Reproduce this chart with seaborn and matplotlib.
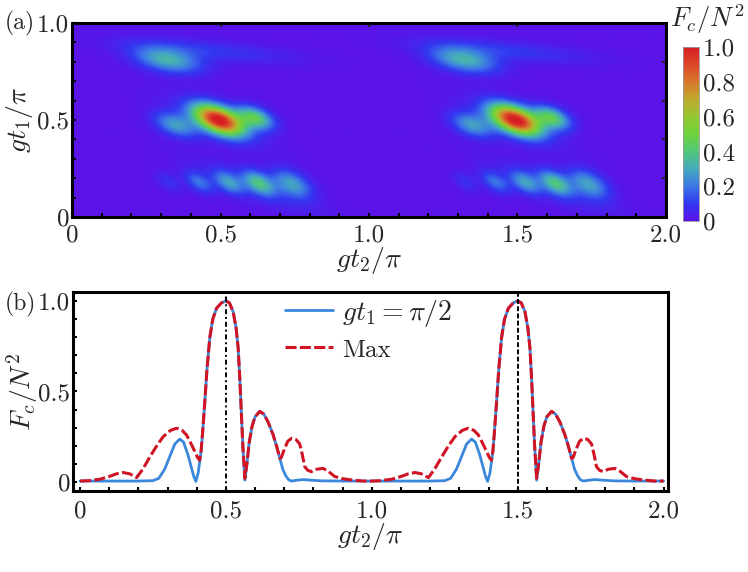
import numpy as np
import pandas as pd
import matplotlib
matplotlib.use("Agg")
import matplotlib.pyplot as plt
from matplotlib.colors import LinearSegmentedColormap
from matplotlib.ticker import MultipleLocator, NullFormatter
import seaborn as sns

# =========================
# DATA
# =========================

# panel (a): bright spots of F_c/N^2 in one period of gt2/pi (repeats at +1)
blob_x = [0.494, 0.617, 0.347, 0.32, 0.45, 0.325, 0.427, 0.527, 0.628, 0.74, 0.62, 0.48]
blob_y = [0.50, 0.512, 0.474, 0.81, 0.86, 0.18, 0.178, 0.176, 0.174, 0.17, 0.15, 0.49]
blob_amp = [1.0, 0.42, 0.27, 0.32, 0.10, 0.08, 0.19, 0.25, 0.34, 0.28, 0.06, 0.05]
blob_major = [0.095, 0.068, 0.078, 0.12, 0.30, 0.05, 0.058, 0.06, 0.064, 0.078, 0.26, 0.22]
blob_minor = [0.045, 0.035, 0.038, 0.042, 0.035, 0.028, 0.03, 0.032, 0.034, 0.042, 0.05, 0.06]
blob_angle = [-22, -22, -20, -10, -5, -32, -32, -32, -32, -28, -22, -24]
periods = [0.0, 1.0]

# panel (b): one period of each curve (the picture repeats it at +1)
blue_x = [0.0, 0.1, 0.2, 0.25, 0.27, 0.29, 0.31, 0.325, 0.342, 0.355, 0.37, 0.38,
          0.39, 0.397, 0.405, 0.415, 0.42, 0.428, 0.435, 0.445, 0.455, 0.468,
          0.485, 0.5, 0.512, 0.525, 0.535, 0.542, 0.548, 0.553, 0.558, 0.565,
          0.572, 0.58, 0.59, 0.6, 0.616, 0.63, 0.645, 0.662, 0.675, 0.685,
          0.695, 0.705, 0.715, 0.725, 0.745, 0.765, 0.79, 0.83, 0.9, 1.0]
blue_y = [0.005, 0.005, 0.005, 0.007, 0.02, 0.07, 0.15, 0.21, 0.237, 0.22, 0.15, 0.09,
          0.03, 0.003, 0.05, 0.17, 0.27, 0.45, 0.62, 0.8, 0.9, 0.96,
          0.99, 1.0, 0.99, 0.94, 0.85, 0.74, 0.56, 0.38, 0.2, 0.01,
          0.1, 0.22, 0.31, 0.36, 0.39, 0.375, 0.33, 0.26, 0.19, 0.13,
          0.07, 0.035, 0.012, 0.005, 0.01, 0.013, 0.01, 0.006, 0.005, 0.005]

max_x = [0.0, 0.03, 0.068, 0.1, 0.125, 0.148, 0.17, 0.194, 0.215, 0.24, 0.265,
         0.285, 0.31, 0.331, 0.35, 0.365, 0.377, 0.39, 0.403, 0.41, 0.415, 0.42,
         0.428, 0.435, 0.445, 0.455, 0.468, 0.485, 0.5, 0.512, 0.525, 0.535,
         0.542, 0.548, 0.553, 0.558, 0.565, 0.572, 0.58, 0.59, 0.6, 0.616,
         0.63, 0.645, 0.662, 0.675, 0.685, 0.69, 0.7, 0.712, 0.725, 0.74,
         0.753, 0.762, 0.77, 0.78, 0.793, 0.81, 0.833, 0.85, 0.873, 0.9,
         0.936, 0.97, 1.0]
max_y = [0.005, 0.007, 0.015, 0.03, 0.045, 0.052, 0.045, 0.024, 0.07, 0.14, 0.205,
         0.25, 0.285, 0.297, 0.285, 0.26, 0.223, 0.18, 0.135, 0.12, 0.17, 0.27,
         0.45, 0.62, 0.8, 0.9, 0.96, 0.99, 1.0, 0.99, 0.94, 0.85,
         0.74, 0.56, 0.38, 0.2, 0.02, 0.1, 0.22, 0.31, 0.36, 0.39,
         0.375, 0.33, 0.26, 0.19, 0.13, 0.135, 0.18, 0.225, 0.241, 0.235,
         0.21, 0.15, 0.085, 0.065, 0.057, 0.07, 0.075, 0.06, 0.03, 0.018,
         0.01, 0.005, 0.005]

ticks_main = [0, 0.5, 1.0, 1.5, 2.0]
tick_labels_main = ["0", "0.5", "1.0", "1.5", "2.0"]
ticks_y = [0, 0.5, 1.0]
tick_labels_y = ["0", "0.5", "1.0"]
cbar_ticks = [0, 0.2, 0.4, 0.6, 0.8, 1.0]
cbar_labels = ["0", "0.2", "0.4", "0.6", "0.8", "1.0"]

# =========================
# STYLE
# =========================

sns.set_theme(style="ticks")
plt.rcParams["font.family"] = ["cmr10", "DejaVu Serif"]
plt.rcParams["mathtext.fontset"] = "cm"
plt.rcParams["axes.unicode_minus"] = False
plt.rcParams["axes.linewidth"] = 2.2
plt.rcParams["axes.edgecolor"] = "black"

FS = 18      # tick labels
FL = 20      # axis labels (math)

rainbow = LinearSegmentedColormap.from_list("mma_rainbow", [
    (90 / 255, 20 / 255, 232 / 255),
    (50 / 255, 55 / 255, 240 / 255),
    (60 / 255, 120 / 255, 230 / 255),
    (70 / 255, 170 / 255, 190 / 255),
    (80 / 255, 200 / 255, 120 / 255),
    (110 / 255, 210 / 255, 60 / 255),
    (150 / 255, 200 / 255, 50 / 255),
    (190 / 255, 170 / 255, 45 / 255),
    (215 / 255, 120 / 255, 45 / 255),
    (220 / 255, 70 / 255, 40 / 255),
    (215 / 255, 30 / 255, 35 / 255),
])

fig = plt.figure(figsize=(7.48, 5.72), dpi=100)

# =========================
# PANEL (a): HEATMAP
# =========================

gx = np.linspace(0, 2, 700)
gy = np.linspace(0, 1, 350)
X, Y = np.meshgrid(gx, gy)
aspect = 297 / 194  # display scale x vs y
field = np.zeros_like(X)
for shift in periods:
    for x0, y0, a, s1, s2, ang in zip(blob_x, blob_y, blob_amp, blob_major, blob_minor, blob_angle):
        u = (X - x0 - shift) * aspect
        v = Y - y0
        t = np.deg2rad(ang)
        p = u * np.cos(t) + v * np.sin(t)
        q = -u * np.sin(t) + v * np.cos(t)
        field += a * np.exp(-0.5 * (p / s1) ** 2 - 0.5 * (q / s2) ** 2)
field = np.clip(field, 0, 1)

ax_a = fig.add_axes([0.0963, 0.6206, 0.794, 0.339])
im = ax_a.imshow(field, origin="lower", extent=[0, 2, 0, 1], aspect="auto",
                 cmap=rainbow, vmin=0, vmax=1, interpolation="bilinear")
ax_a.set_xlim(0, 2)
ax_a.set_ylim(0, 1)
ax_a.set_xticks(ticks_main)
ax_a.set_xticklabels(tick_labels_main, fontsize=FS)
ax_a.set_yticks(ticks_y)
ax_a.set_yticklabels(tick_labels_y, fontsize=FS)
ax_a.xaxis.set_minor_locator(MultipleLocator(0.1))
ax_a.yaxis.set_minor_locator(MultipleLocator(0.1))
ax_a.tick_params(which="both", direction="in", length=3, width=1.5, color="black")
ax_a.tick_params(axis="x", pad=5)
ax_a.tick_params(axis="y", pad=2)
top_a = ax_a.secondary_xaxis("top")
top_a.set_xticks([0.5, 1.0, 1.5])
top_a.xaxis.set_major_formatter(NullFormatter())
top_a.tick_params(direction="in", length=3, width=1.5)
top_a.spines["top"].set_visible(False)
right_a = ax_a.secondary_yaxis("right")
right_a.set_yticks([0.2, 0.4, 0.6, 0.8])
right_a.yaxis.set_major_formatter(NullFormatter())
right_a.tick_params(direction="in", length=3, width=1.5)
right_a.spines["right"].set_visible(False)
ax_a.set_xlabel(r"$gt_2/\pi$", fontsize=FL)
ax_a.xaxis.set_label_coords(0.5, -0.225)
ax_a.xaxis.label.set_va("center")
ax_a.set_ylabel(r"$gt_1/\pi$", fontsize=FL)
ax_a.yaxis.set_label_coords(-0.088, 0.5)
ax_a.yaxis.label.set_va("center")

cax = fig.add_axes([0.913, 0.6136, 0.0214, 0.304])
cb = fig.colorbar(im, cax=cax)
cb.set_ticks(cbar_ticks)
cb.set_ticklabels(cbar_labels, fontsize=FS)
cb.outline.set_linewidth(0.6)
cb.outline.set_edgecolor("#999999")
cax.tick_params(direction="in", length=3, width=0.6, color="#aaaaaa", pad=3)
fig.text(744 / 748, 1 - 19 / 572, r"$F_c/N^2$", fontsize=19, ha="right", va="center")

fig.text(0.006, 1 - 23 / 572, "(a)", fontsize=17, ha="left", va="center")

# =========================
# PANEL (b): LINE CUTS
# =========================

line_df = pd.DataFrame({
    "x": np.concatenate([np.array(blue_x) + s for s in periods]),
    "y": np.concatenate([np.array(blue_y) for s in periods]),
})
max_df = pd.DataFrame({
    "x": np.concatenate([np.array(max_x) + s for s in periods]),
    "y": np.concatenate([np.array(max_y) for s in periods]),
})

ax_b = fig.add_axes([0.0976, 0.1416, 0.795, 0.348])
sns.lineplot(data=line_df, x="x", y="y", ax=ax_b, color="#3a87dc", lw=2.0,
             label=r"$gt_1=\pi/2$", estimator=None, sort=False)
sns.lineplot(data=max_df, x="x", y="y", ax=ax_b, color="#d01424", lw=2.2,
             linestyle=(0, (3.6, 1.1)), label="Max", estimator=None, sort=False)
ax_b.axvline(0.5, color="black", lw=1.4, ls=(0, (2.5, 1.5, 1, 1.5)), zorder=3)
ax_b.axvline(1.5, color="black", lw=1.4, ls=(0, (2.5, 1.2)), zorder=3)

ax_b.set_xlim(-0.024, 2.014)
ax_b.set_ylim(-0.05, 1.05)
ax_b.set_xticks(ticks_main)
ax_b.set_xticklabels(tick_labels_main, fontsize=FS)
ax_b.set_yticks(ticks_y)
ax_b.set_yticklabels(tick_labels_y, fontsize=FS)
ax_b.xaxis.set_minor_locator(MultipleLocator(0.1))
ax_b.yaxis.set_minor_locator(MultipleLocator(0.1))
ax_b.tick_params(which="both", direction="in", length=3, width=1.5, color="black")
ax_b.tick_params(axis="x", pad=7)
ax_b.tick_params(axis="y", pad=2)
ax_b.set_xlabel(r"$gt_2/\pi$", fontsize=FL)
ax_b.xaxis.set_label_coords(0.5, -0.228)
ax_b.xaxis.label.set_va("center")
ax_b.set_ylabel(r"$F_c/N^2$", fontsize=FL)
ax_b.yaxis.set_label_coords(-0.086, 0.5)
ax_b.yaxis.label.set_va("center")

leg = ax_b.legend(loc="upper left", bbox_to_anchor=(0.356, 0.97), frameon=False,
                  fontsize=FL, borderpad=0, borderaxespad=0, handlelength=1.75,
                  handletextpad=0.3, labelspacing=0.3)
leg.get_texts()[1].set_fontsize(18)

fig.text(0.006, 1 - 304 / 572, "(b)", fontsize=17, ha="left", va="center")

fig.savefig("out.png", dpi=100)
